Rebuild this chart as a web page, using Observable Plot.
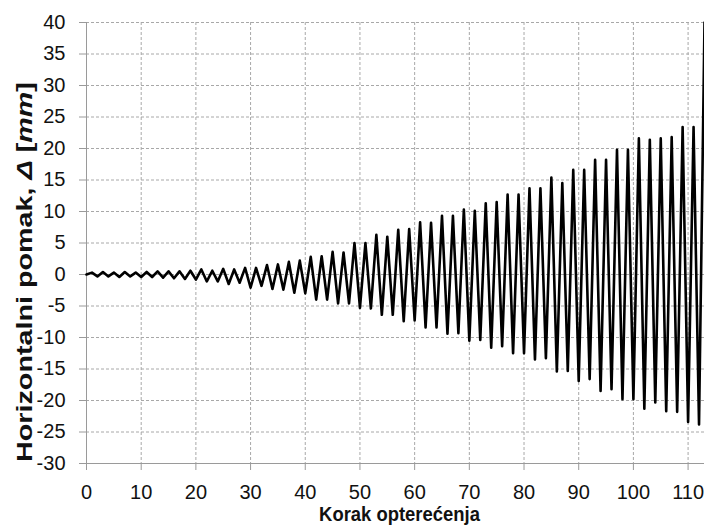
<!DOCTYPE html>
<html>
<head>
<meta charset="utf-8">
<script src="https://cdn.jsdelivr.net/npm/d3@7"></script>
<script src="https://cdn.jsdelivr.net/npm/@observablehq/plot@0.6"></script>
<style>
  html, body { margin: 0; padding: 0; background: #fff; }
  #chart svg { display: block; }
</style>
</head>
<body>
<div id="chart"></div>
<script>
// Horizontal displacement (mm) for each load step 0..113
const displacement = [
  0,
  0.3, -0.3, 0.4, -0.3, 0.3, -0.4, 0.4, -0.3, 0.3, -0.4,
  0.4, -0.4, 0.5, -0.5, 0.5, -0.6, 0.5, -0.7, 0.6, -0.8,
  0.8, -1.1, 0.6, -1.1, 0.9, -1.5, 0.8, -1.3, 1.05, -2.1,
  1.05, -1.8, 1.5, -2.3, 1.6, -2.4, 2.0, -2.9, 2.2, -3.0,
  2.8, -4.0, 2.9, -4.0, 3.6, -4.6, 3.5, -4.6, 5.0, -5.3,
  5.0, -5.4, 6.3, -6.4, 6.0, -6.4, 7.1, -7.4, 7.2, -7.3,
  8.3, -8.4, 8.2, -8.4, 9.3, -9.4, 9.3, -9.3, 10.3, -10.5,
  10.1, -10.4, 11.3, -11.6, 11.5, -11.4, 12.7, -12.5, 12.7, -12.5,
  13.7, -13.5, 13.7, -13.3, 15.4, -15.4, 14.5, -15.3, 16.6, -16.9,
  16.6, -16.6, 18.2, -18.5, 18.2, -18.2, 19.8, -19.8, 19.8, -19.8,
  21.6, -21.3, 21.4, -20.3, 21.6, -21.7, 21.8, -21.8, 23.4, -23.4,
  23.4, -23.8, 40
];
const xTicks = [0, 10, 20, 30, 40, 50, 60, 70, 80, 90, 100, 110];
const yTicks = [-30, -25, -20, -15, -10, -5, 0, 5, 10, 15, 20, 25, 30, 35, 40];
const xLabel = "Korak opterećenja";
const yLabel = "Horizontalni pomak, Δ [mm]";

const rows = displacement.map((v, i) => ({step: i, disp: v}));

const gridStyle = {stroke: "#a8a8a8", strokeOpacity: 1, strokeDasharray: "3,2", strokeWidth: 1};
const axisColor = "#9a9a9a";
const fmt = d => String(d);

const chart = Plot.plot({
  width: 704,
  height: 528,
  marginLeft: 86,
  marginRight: 0,
  marginTop: 22,
  marginBottom: 65,
  style: {
    fontFamily: "'Liberation Sans', Arial, sans-serif",
    fontSize: "20px",
    color: "#111",
    background: "#fff"
  },
  x: {domain: [0, 113]},
  y: {domain: [-30, 40]},
  marks: [
    Plot.gridX(xTicks.filter(t => t > 0), gridStyle),
    Plot.gridY(yTicks.filter(t => t > -30), gridStyle),
    Plot.ruleX([0], {stroke: axisColor}),
    Plot.ruleY([-30], {stroke: axisColor}),
    Plot.axisX(xTicks, {tickSize: 7, tickPadding: 14, stroke: axisColor, fill: "#111", label: null, fontSize: 20, tickFormat: fmt}),
    Plot.axisY(yTicks, {tickSize: 7, tickPadding: 14, stroke: axisColor, fill: "#111", label: null, fontSize: 20, tickFormat: fmt}),
    Plot.line(rows, {x: "step", y: "disp", stroke: "#000", strokeWidth: 2.6, strokeLinejoin: "round"}),
    Plot.text([yLabel], {
      text: d => d, frameAnchor: "left", textAnchor: "middle", dx: -62, dy: 29, rotate: -90,
      fontWeight: "bold", fontSize: 22, fill: "#111"
    }),
    Plot.text([xLabel], {
      text: d => d, frameAnchor: "bottom", textAnchor: "middle", dx: 4, dy: 57,
      fontWeight: "bold", fontSize: 21, fill: "#111"
    })
  ]
});

document.getElementById("chart").appendChild(chart);

const labelTexts = chart.querySelectorAll('g[aria-label="text"] text');
const yNode = labelTexts[0];
const xNode = labelTexts[1];

// y label: italic Δ and mm
if (yNode) {
  const yl = d3.select(yNode);
  yl.text(null);
  yl.append("tspan").text("Horizontalni pomak, ");
  yl.append("tspan").attr("font-style", "italic").text("Δ");
  yl.append("tspan").text(" [");
  yl.append("tspan").attr("font-style", "italic").text("mm");
  yl.append("tspan").text("]");
}

// match label lengths along their baselines to the reference
function stretchTo(node, target) {
  if (!node) return;
  const len = node.getComputedTextLength();
  if (!len) return;
  const t = node.getAttribute("transform") || "";
  node.setAttribute("transform", t + ` scale(${(target / len).toFixed(4)},1)`);
}
stretchTo(yNode, 380);
stretchTo(xNode, 161);
</script>
</body>
</html>
